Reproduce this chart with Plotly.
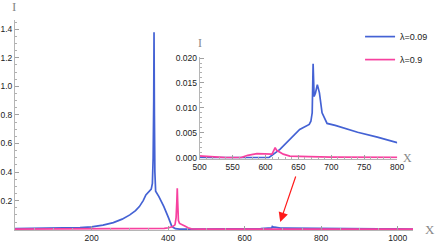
import plotly.graph_objects as go

# ---- data ----
x_blue = [0, 40, 80, 130, 170, 200, 230, 257, 280, 300, 315, 325, 335, 342, 350, 356,
          359, 361, 362.5, 363.3, 364.3, 365.5, 367.5, 376, 389, 401.5, 410, 419, 430,
          460, 520, 580, 605, 622, 642, 652, 666.5, 669, 671, 672.4, 673.9, 676, 678.8,
          682, 686, 693.6, 706, 740, 770, 800, 850, 900, 950, 1000, 1040]
i_blue = [0.003, 0.004, 0.005, 0.007, 0.010, 0.016, 0.028, 0.046, 0.07, 0.10, 0.13,
          0.158, 0.20, 0.24, 0.26, 0.28, 0.32, 0.5, 0.9, 1.38, 0.8, 0.4, 0.265, 0.228,
          0.158, 0.077, 0.018, 0.003, 0.0005, 0.0001, 0.0, 0.0, 0.0, 0.00166, 0.00446,
          0.00566, 0.00666, 0.0073, 0.009, 0.01886, 0.0123, 0.013, 0.01466, 0.013, 0.009,
          0.00686, 0.00646, 0.0051, 0.0041, 0.003, 0.0024, 0.0019, 0.0015, 0.0012, 0.001]

x_pink = [0, 200, 300, 360, 390, 402, 412, 418, 421, 423, 424, 425, 427, 430, 436, 445,
          452, 461, 480, 540, 563, 573, 587, 602, 610, 614.7, 617, 627, 637, 666, 700,
          800, 1040]
i_pink = [0.0, 0.0005, 0.001, 0.002, 0.005, 0.01, 0.018, 0.03, 0.08, 0.2, 0.287, 0.2,
          0.06, 0.04, 0.03, 0.02, 0.01, 0.002, 0.0005, 0.0, 0.0, 0.00046, 0.0008, 0.00066,
          0.0007, 0.002, 0.00146, 0.0007, 0.0003, 0.0002, 0.0001, 0.00005, 0.0]

names = ["λ=0.09", "λ=0.9"]
colors = ["#4462d4", "#f7419f"]

main_xticks = [200, 400, 600, 800, 1000]
main_yticks = [0.2, 0.4, 0.6, 0.8, 1.0, 1.2, 1.4]
inset_xticks = [500, 550, 600, 650, 700, 750, 800]
inset_yticks = [0.0, 0.005, 0.010, 0.015, 0.020]

fig = go.Figure()
series = [(x_blue, i_blue), (x_pink, i_pink)]
for k, (xs, ys) in enumerate(series):
    fig.add_trace(go.Scatter(x=xs, y=ys, mode="lines", name=names[k],
                             line=dict(color=colors[k], width=1.7),
                             legendgroup=f"g{k}", xaxis="x", yaxis="y"))
for k, (xs, ys) in enumerate(series):
    fig.add_trace(go.Scatter(x=xs, y=ys, mode="lines", name=names[k], showlegend=False,
                             line=dict(color=colors[k], width=1.7),
                             xaxis="x2", yaxis="y2"))

tickfont = dict(family="Liberation Sans, Arial, sans-serif", size=8.5, color="#222")
axcol = "#b5b5b5"
common = dict(showline=True, linecolor=axcol, linewidth=1, ticks="inside",
              tickcolor="#a0a0a0", ticklen=4, tickwidth=1, showgrid=False,
              zeroline=False, tickfont=tickfont, automargin=False)

fig.update_layout(
    width=445, height=242, autosize=False,
    margin=dict(l=15, r=22, t=20, b=12),
    paper_bgcolor="white", plot_bgcolor="white",
    xaxis=dict(range=[0, 1040], tickvals=main_xticks, ticktext=[str(v) for v in main_xticks],
               minor=dict(dtick=50, ticklen=2, tickcolor="#b0b0b0", ticks="inside"),
               **common),
    yaxis=dict(range=[-0.006, 1.465], tickvals=main_yticks,
               ticktext=[f"{v:.1f}" for v in main_yticks],
               minor=dict(dtick=0.05, ticklen=2, tickcolor="#b0b0b0", ticks="inside"),
               **common),
    xaxis2=dict(domain=[0.464, 0.960], anchor="y2", range=[500, 800],
                tickvals=inset_xticks, ticktext=[str(v) for v in inset_xticks],
                minor=dict(dtick=10, ticklen=2, tickcolor="#b0b0b0", ticks="inside"),
                **common),
    yaxis2=dict(domain=[0.340, 0.826], anchor="x2", range=[-0.0002, 0.0203],
                tickvals=inset_yticks, ticktext=[f"{v:.3f}" for v in inset_yticks],
                minor=dict(dtick=0.001, ticklen=2, tickcolor="#b0b0b0", ticks="inside"),
                **common),
    showlegend=True,
    legend=dict(x=0.867, y=0.99, xanchor="left", yanchor="top",
                font=dict(family="Liberation Sans, Arial, sans-serif", size=9, color="#222"),
                bgcolor="rgba(0,0,0,0)", tracegroupgap=4, itemwidth=30),
)

serif = "Liberation Serif, Times New Roman, serif"
fig.add_annotation(text="I", xref="paper", yref="paper", x=-0.003, y=1.0, yanchor="bottom",
                   xanchor="center", showarrow=False, yshift=4,
                   font=dict(family=serif, size=13, color="#888"))
fig.add_annotation(text="X", xref="paper", yref="y", x=1.0, y=0, xanchor="center",
                   yanchor="middle", showarrow=False, xshift=17,
                   font=dict(family=serif, size=13, color="#888"))
fig.add_annotation(text="I", xref="x2 domain", yref="y2 domain", x=0, y=1.0, yanchor="bottom",
                   xanchor="center", showarrow=False, yshift=5,
                   font=dict(family=serif, size=12, color="#888"))
fig.add_annotation(text="X", xref="x2 domain", yref="y2", x=1.0, y=0, xanchor="left",
                   yanchor="middle", showarrow=False, xshift=4,
                   font=dict(family=serif, size=12, color="#888"))
# red arrow pointing at the small feature near X≈680
fig.add_annotation(x=693, y=0.05, xref="x", yref="y", ax=16, ay=-47, text="",
                   showarrow=True, arrowhead=2, arrowsize=1.6, arrowwidth=1.2,
                   arrowcolor="#ff1a1a")

post = ("document.documentElement.style.overflow='hidden';"
        "document.documentElement.style.margin='0px';"
        "document.body.style.margin='0px';document.body.style.padding='0px';"
        "document.body.style.overflow='hidden';"
        "var gd=document.getElementById('{plot_id}');"
        "gd.style.width='445px';gd.style.height='242px';"
        "Plotly.relayout(gd,{width:445,height:242});")
fig.write_html("out.html", config={"displayModeBar": False, "responsive": False},
               post_script=post)
